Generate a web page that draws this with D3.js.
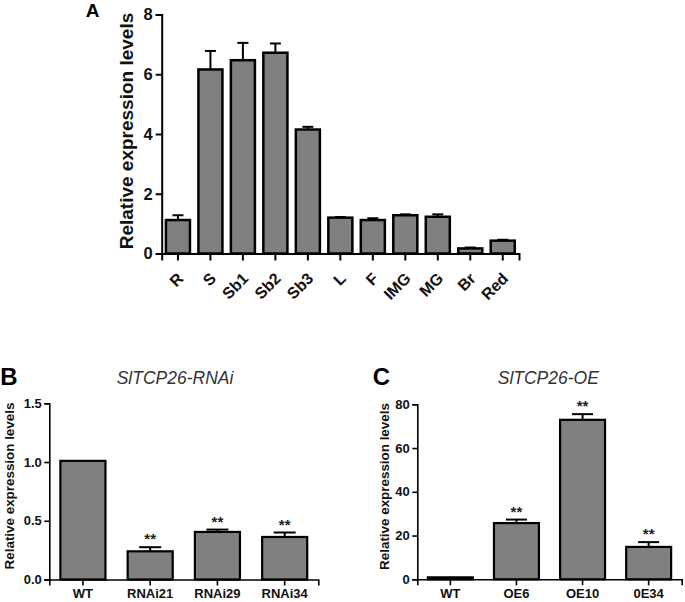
<!DOCTYPE html>
<html>
<head>
<meta charset="utf-8">
<script src="https://cdn.jsdelivr.net/npm/d3@7"></script>
<style>
  html, body { margin: 0; padding: 0; background: #fff; }
  svg { display: block; }
  text { font-family: "Liberation Sans", Arial, sans-serif; }
</style>
</head>
<body>
<svg id="chart" width="685" height="602"></svg>
<script>
// ---------- DATA ----------
const catsA = ["R", "S", "Sb1", "Sb2", "Sb3", "L", "F", "IMG", "MG", "Br", "Red"];
const valsA = [1.12, 6.16, 6.47, 6.72, 4.15, 1.20, 1.12, 1.28, 1.23, 0.17, 0.43];
const errA  = [0.16, 0.62, 0.58, 0.31, 0.09, 0.02, 0.06, 0.03, 0.08, 0.03, 0.03];
const ticksA = [0, 2, 4, 6, 8];

const catsB = ["WT", "RNAi21", "RNAi29", "RNAi34"];
const valsB = [1.01, 0.24, 0.405, 0.362];
const errB  = [0, 0.035, 0.02, 0.038];
const sigB  = ["", "**", "**", "**"];
const ticksB = [0, 0.5, 1.0, 1.5];

const catsC = ["WT", "OE6", "OE10", "0E34"];
const valsC = [0.9, 25.7, 72.9, 14.8];
const errC  = [0, 1.6, 2.6, 2.2];
const sigC  = ["", "**", "**", "**"];
const ticksC = [0, 20, 40, 60, 80];

const yTitle = "Relative expression levels";

// ---------- DRAW ----------
const svg = d3.select("#chart");
const FILL = "#808080";

function panel(opt) {
  const g = svg.append("g");
  const x = d3.scaleBand().domain(opt.cats).range([opt.x0, opt.x1])
    .paddingInner(opt.pad).paddingOuter(opt.pad / 2);
  const y = d3.scaleLinear().domain(opt.ydom).range([opt.y0, opt.y1]);
  const data = opt.cats.map((c, i) => ({c, v: opt.vals[i], e: opt.errs[i], s: opt.sig ? opt.sig[i] : ""}));

  // error bars (drawn first so bars cover the lower part)
  const eb = g.append("g");
  data.filter(d => d.e > 0).forEach(d => {
    const cx = x(d.c) + x.bandwidth() / 2;
    eb.append("line").attr("x1", cx).attr("x2", cx)
      .attr("y1", y(d.v)).attr("y2", y(d.v + d.e))
      .attr("stroke", "#000").attr("stroke-width", opt.ebw);
    eb.append("line").attr("x1", cx - opt.cap / 2).attr("x2", cx + opt.cap / 2)
      .attr("y1", y(d.v + d.e)).attr("y2", y(d.v + d.e))
      .attr("stroke", "#000").attr("stroke-width", opt.ebw);
  });

  g.append("g").selectAll("rect").data(data).join("rect")
    .attr("x", d => x(d.c))
    .attr("width", x.bandwidth())
    .attr("y", d => y(d.v))
    .attr("height", d => y(0) - y(d.v))
    .attr("fill", FILL)
    .attr("stroke", "#000")
    .attr("stroke-width", opt.bw);

  // significance stars
  g.append("g").selectAll("text").data(data.filter(d => d.s)).join("text")
    .attr("x", d => x(d.c) + x.bandwidth() / 2)
    .attr("y", d => y(d.v + d.e) - 3)
    .attr("text-anchor", "middle")
    .attr("font-size", opt.starSize)
    .attr("font-weight", "bold")
    .attr("fill", "#222")
    .text(d => d.s);

  // y axis
  const ya = g.append("g").attr("transform", `translate(${opt.x0},0)`)
    .call(d3.axisLeft(y).tickValues(opt.ticks).tickSizeOuter(0)
      .tickSize(opt.tick).tickPadding(opt.tickPad).tickFormat(opt.fmt));
  ya.select(".domain").attr("stroke-width", opt.aw);
  ya.selectAll(".tick line").attr("stroke-width", opt.aw);
  ya.selectAll(".tick text").attr("font-size", opt.tickFont).attr("font-weight", "bold")
    .attr("font-family", '"Liberation Sans", Arial, sans-serif').attr("fill", "#111");

  // x axis
  const xa = g.append("g").attr("transform", `translate(0,${opt.y0})`)
    .call(d3.axisBottom(x).tickSizeOuter(0).tickSize(opt.tick + 1).tickPadding(3));
  xa.select(".domain").attr("stroke-width", opt.aw);
  xa.selectAll(".tick line").attr("stroke-width", opt.aw);
  const xt = xa.selectAll(".tick text").attr("font-size", opt.xFont).attr("font-weight", "bold")
    .attr("font-family", '"Liberation Sans", Arial, sans-serif').attr("fill", "#111");
  if (opt.rotate) {
    xt.attr("text-anchor", "end").attr("dy", null).attr("y", null)
      .attr("transform", `translate(6.5,${opt.rotY}) rotate(-45)`);
  }

  // y title
  g.append("text")
    .attr("transform", `translate(${opt.titleX},${(opt.titleY)}) rotate(-90)`)
    .attr("text-anchor", "middle")
    .attr("font-size", opt.titleFont)
    .attr("font-weight", "bold")
    .attr("fill", "#111")
    .text(yTitle);

  // panel letter
  svg.append("text").attr("x", opt.letterX).attr("y", opt.letterY)
    .attr("text-anchor", "middle")
    .attr("font-size", opt.letterFont).attr("font-weight", "bold").attr("fill", "#000")
    .text(opt.letter);

  if (opt.head) {
    svg.append("text").attr("x", opt.headX).attr("y", opt.headY)
      .attr("text-anchor", "middle").attr("font-size", 17.5).attr("font-style", "italic")
      .attr("fill", "#333").text(opt.head);
  }
}

panel({
  cats: catsA, vals: valsA, errs: errA, ticks: ticksA, ydom: [0, 8],
  x0: 161.7, x1: 519, y0: 253.5, y1: 14.5, pad: 0.26,
  bw: 2.5, aw: 2, ebw: 2, cap: 11, tick: 6, tickPad: 3, tickFont: 16.5, xFont: 16,
  fmt: d3.format("d"), rotate: true, rotY: 26, starSize: 15,
  titleX: 132.5, titleY: 131, titleFont: 19,
  letter: "A", letterX: 92.5, letterY: 17, letterFont: 19
});

panel({
  cats: catsB, vals: valsB, errs: errB, sig: sigB, ticks: ticksB, ydom: [0, 1.5],
  x0: 49.3, x1: 318.3, y0: 579.5, y1: 403.3, pad: 0.33,
  bw: 2.2, aw: 1.6, ebw: 2, cap: 22, tick: 5, tickPad: 2.5, tickFont: 13, xFont: 13,
  fmt: d3.format(".1f"), rotate: false, starSize: 15,
  titleX: 13.5, titleY: 486, titleFont: 13.4,
  letter: "B", letterX: 9, letterY: 385, letterFont: 24,
  head: "SlTCP26-RNAi", headX: 175, headY: 383.5
});

panel({
  cats: catsC, vals: valsC, errs: errC, sig: sigC, ticks: ticksC, ydom: [0, 80],
  x0: 417.3, x1: 681.7, y0: 579.3, y1: 404.3, pad: 0.32,
  bw: 2.2, aw: 1.6, ebw: 2, cap: 21, tick: 5, tickPad: 2.5, tickFont: 13, xFont: 13,
  fmt: d3.format("d"), rotate: false, starSize: 15,
  titleX: 388.5, titleY: 486.5, titleFont: 13.4,
  letter: "C", letterX: 381.5, letterY: 385, letterFont: 24,
  head: "SlTCP26-OE", headX: 548.3, headY: 383.5
});
</script>
</body>
</html>
